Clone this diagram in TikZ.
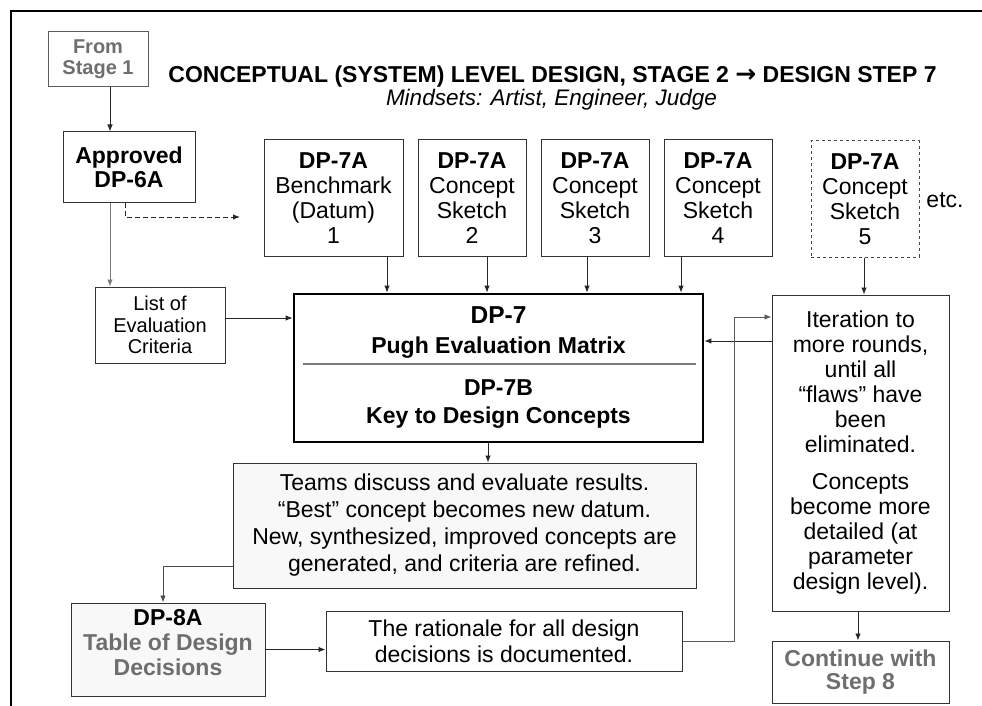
\documentclass[tikz,border=0pt]{standalone}
\usepackage{fontspec}
\setmainfont{Liberation Sans}
\newfontfamily\arrowfont{DejaVu Sans}
\usetikzlibrary{arrows.meta}
\definecolor{boxline}{HTML}{333333}
\definecolor{greytext}{HTML}{6E6E6E}
\definecolor{greyline}{HTML}{7A7A7A}
\definecolor{paper}{HTML}{F8F8F8}
\newcommand{\bigtxt}{\fontsize{23}{25}\selectfont}
\newcommand{\smalltxt}{\fontsize{20}{21.5}\selectfont}
\begin{document}
\begin{tikzpicture}[x=1pt,y=-1pt,
  box/.style={draw=boxline,line width=1pt,align=center,inner sep=0pt,font=\bigtxt},
  sketchbox/.style={box,minimum width=108pt,minimum height=116pt},
  arr/.style={-{Latex[length=7pt,width=5.5pt]},line width=0.9pt,draw=black!85},
  greyarr/.style={arr,draw=greyline},
]
\useasboundingbox (0,0) rectangle (982,706);

% page frame (top and left rules)
\draw[line width=2pt] (11,706) -- (11,11) -- (982,11);

% headings
\node[anchor=base,font=\bigtxt\bfseries] (title) at (552.5,82.5)
  {CONCEPTUAL (SYSTEM) LEVEL DESIGN, STAGE 2 {\arrowfont\bfseries\fontsize{25}{25}\selectfont →} DESIGN STEP 7};
\node[anchor=base,font=\fontsize{22.5}{25}\selectfont\itshape] (subtitle) at (551.5,106)
  {Mindsets: Artist, Engineer, Judge};

% left column
\node[box,draw=boxline!80,minimum width=100pt,minimum height=55pt,
      font=\fontsize{20}{21}\selectfont\bfseries,text=greytext] (from) at (98,59.5)
  {From\\Stage 1};
\node[box,minimum width=132pt,minimum height=70pt,font=\fontsize{23}{24}\selectfont\bfseries]
  (approved) at (129,167) {Approved\\DP-6A};
\node[box,minimum width=130pt,minimum height=76pt,font=\smalltxt] (list) at (160,325)
  {List of\\Evaluation\\Criteria};

% concept sketches
\node[box,minimum width=139pt,minimum height=116pt] (bench) at (333.5,198)
  {\textbf{DP-7A}\\Benchmark\\(Datum)\\1};
\node[sketchbox] (s2) at (472,198) {\textbf{DP-7A}\\Concept\\Sketch\\2};
\node[sketchbox] (s3) at (595,198) {\textbf{DP-7A}\\Concept\\Sketch\\3};
\node[sketchbox] (s4) at (718,198) {\textbf{DP-7A}\\Concept\\Sketch\\4};
\node[sketchbox,dashed,draw=boxline!90] (s5) at (865,199) {\textbf{DP-7A}\\Concept\\Sketch\\5};
\node[font=\bigtxt] (etc) at (945,200) {etc.};

% central matrix
\node[draw=black,line width=2.8pt,fill=white,minimum width=409pt,minimum height=148pt,inner sep=0pt]
  (pugh) at (498.5,368) {};
\node[anchor=base,font=\fontsize{24.5}{25}\selectfont\bfseries] (pughA) at (498.5,323) {DP-7};
\node[anchor=base,font=\bigtxt\bfseries] (pughB) at (498.5,353) {Pugh Evaluation Matrix};
\node[anchor=base,font=\bigtxt\bfseries] (pughC) at (498.5,395) {DP-7B};
\node[anchor=base,font=\bigtxt\bfseries] (pughD) at (498.5,423) {Key to Design Concepts};
\draw[greyline,line width=1.4pt] (303,364) -- (696,364);

% discussion and documentation
\node[box,fill=paper,minimum width=463pt,minimum height=125pt,
      font=\fontsize{23}{27}\selectfont] (teams) at (464.5,525.5)
  {Teams discuss and evaluate results.\\“Best” concept becomes new datum.\\New, synthesized, improved concepts are\\generated, and criteria are refined.};
\node[box,fill=paper,minimum width=194pt,minimum height=93pt] (dp8a) at (168,649.5) {};
\node[align=center,font=\bigtxt,anchor=base] (dp8atext) at (168,675)
  {\textbf{DP-8A}\\\textcolor{greytext}{\bfseries Table of Design}\\\textcolor{greytext}{\bfseries Decisions}};
\node[box,minimum width=356pt,minimum height=60pt,font=\fontsize{23}{26}\selectfont] (rationale) at (504,641)
  {The rationale for all design\\decisions is documented.};

% right column
\node[box,minimum width=177pt,minimum height=316pt,font=\fontsize{23}{25}\selectfont] (iter) at (860.5,453)
  {Iteration to\\more rounds,\\until all\\“flaws” have\\been\\eliminated.\\[12pt]Concepts\\become more\\detailed (at\\parameter\\design level).};
\node[box,minimum width=177pt,minimum height=62pt,font=\fontsize{23}{23}\selectfont\bfseries,text=greytext]
  (cont) at (860.5,672) {Continue with\\Step 8};

% connectors
\draw[arr] ([xshift=12pt]from.south) -- ([xshift=12pt]from.south |- approved.north);
\draw[greyarr] ([xshift=-19pt]approved.south) -- ([xshift=-19pt]approved.south |- list.north);
\coordinate (dashend) at (240,217);
\draw[arr,dashed,dash pattern=on 5pt off 3pt] ([xshift=-4pt]approved.south) |- (dashend);
\draw[arr] ([yshift=7pt]list.east) -- ([yshift=7pt]list.east -| pugh.west);
\draw[arr] ([xshift=53.5pt]bench.south) -- ([xshift=53.5pt]bench.south |- pugh.north);
\draw[arr] ([xshift=15pt]s2.south) -- ([xshift=15pt]s2.south |- pugh.north);
\draw[arr] ([xshift=-8pt]s3.south) -- ([xshift=-8pt]s3.south |- pugh.north);
\draw[arr] ([xshift=-37pt]s4.south) -- ([xshift=-37pt]s4.south |- pugh.north);
\draw[arr] ([xshift=-1pt]s5.south) -- ([xshift=-1pt]s5.south |- iter.north);
\draw[arr] ([yshift=27pt]pugh.east -| iter.west) -- ([yshift=27pt]pugh.east);
\draw[arr] ([xshift=-10.5pt]pugh.south) -- ([xshift=-10.5pt]pugh.south |- teams.north);
\draw[arr,draw=black!70] ([yshift=-40.5pt]teams.west) -| ([xshift=-5pt]dp8a.north);
\draw[arr] (dp8a.east) -- (dp8a.east -| rationale.west);
\coordinate (loopx) at (734,317);
\draw[arr,draw=black!65] (rationale.east) -| (loopx) -- (loopx -| iter.west);
\draw[arr] ([xshift=-2.5pt]iter.south) -- ([xshift=-2.5pt]iter.south |- cont.north);
\end{tikzpicture}
\end{document}
